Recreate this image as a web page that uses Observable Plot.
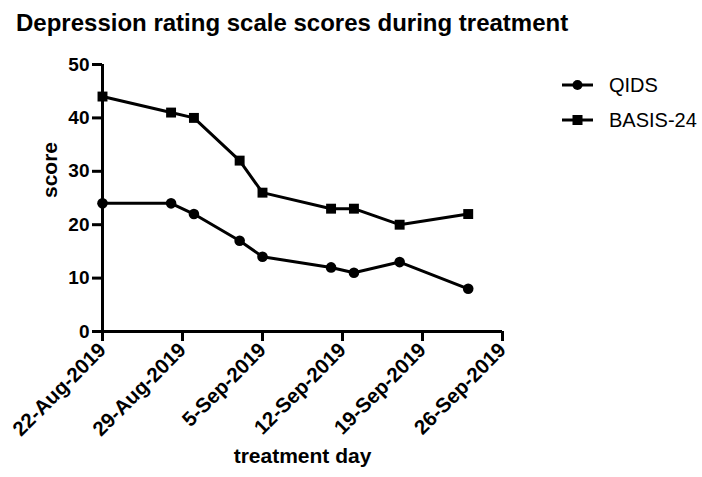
<!DOCTYPE html>
<html>
<head>
<meta charset="utf-8">
<script src="https://cdn.jsdelivr.net/npm/d3@7"></script>
<script src="https://cdn.jsdelivr.net/npm/@observablehq/plot@0.6"></script>
<style>
  body { margin: 0; background: #fff; font-family: "Liberation Sans", Arial, sans-serif; }
  #wrap { position: relative; width: 702px; height: 477px; }
  #chart { position: absolute; left: 0; top: 0; }
  #overlay { position: absolute; left: 0; top: 0; pointer-events: none; }
</style>
</head>
<body>
<div id="wrap">
  <div id="chart"></div>
  <svg id="overlay" width="702" height="477"></svg>
</div>
<script>
const titleText = "Depression rating scale scores during treatment";
const dates = ["2019-08-22","2019-08-28","2019-08-30","2019-09-03","2019-09-05","2019-09-11","2019-09-13","2019-09-17","2019-09-23"];
const qids = [24, 24, 22, 17, 14, 12, 11, 13, 8];
const basis = [44, 41, 40, 32, 26, 23, 23, 20, 22];
const seriesNames = ["QIDS", "BASIS-24"];
const tickDates = ["2019-08-22","2019-08-29","2019-09-05","2019-09-12","2019-09-19","2019-09-26"];
const yTicks = [0, 10, 20, 30, 40, 50];

const parse = d3.utcParse("%Y-%m-%d");
const rows = [];
dates.forEach((d, i) => {
  rows.push({date: parse(d), score: qids[i], series: seriesNames[0]});
  rows.push({date: parse(d), score: basis[i], series: seriesNames[1]});
});
const xTicks = tickDates.map(parse);
const x0 = xTicks[0], x1 = xTicks[xTicks.length - 1];
const fmt = d3.utcFormat("%-d-%b-%Y");
const FONT = "Liberation Sans, Arial, sans-serif";

const plot = Plot.plot({
  width: 702,
  height: 477,
  marginLeft: 102,
  marginRight: 200,
  marginTop: 64,
  marginBottom: 146,
  style: {fontFamily: FONT, background: "transparent", overflow: "visible"},
  x: {type: "utc", domain: [x0, x1]},
  y: {domain: [0, 50]},
  marks: [
    Plot.axisY({ticks: yTicks, tickSize: 10, strokeWidth: 3, tickPadding: 3, fontSize: 19, fontWeight: "bold", fill: "#000", label: null}),
    Plot.axisX({ticks: xTicks, tickSize: 10, strokeWidth: 3, tickRotate: -45, tickPadding: 5, fontSize: 20.5, fontWeight: "bold", fill: "#000", tickFormat: fmt, label: null}),
    Plot.ruleX([x0], {y1: 0, y2: 50, stroke: "#000", strokeWidth: 3}),
    Plot.ruleY([0], {x1: x0, x2: x1, stroke: "#000", strokeWidth: 3}),
    Plot.line(rows, {x: "date", y: "score", z: "series", stroke: "#000", strokeWidth: 3}),
    Plot.dot(rows.filter(r => r.series === "QIDS"), {x: "date", y: "score", r: 5.3, fill: "#000", stroke: null, symbol: "circle"}),
    Plot.dot(rows.filter(r => r.series === "BASIS-24"), {x: "date", y: "score", r: 5.6, fill: "#000", stroke: null, symbol: "square"}),
    Plot.text(["score"], {frameAnchor: "left", dx: -52, rotate: -90, fontSize: 21, fontWeight: "bold", fill: "#000"}),
    Plot.text(["treatment day"], {frameAnchor: "bottom", dy: 131, fontSize: 21, fontWeight: "bold", fill: "#000"})
  ]
});
document.getElementById("chart").appendChild(plot);

const ov = d3.select("#overlay");
ov.append("text").attr("x", 16).attr("y", 31).attr("font-size", 24).attr("font-weight", "bold")
  .attr("font-family", FONT).attr("fill", "#000").text(titleText);

seriesNames.forEach((name, i) => {
  const g = ov.append("g").attr("transform", `translate(562,${85 + i * 35})`);
  g.append("line").attr("x1", 0).attr("x2", 31).attr("stroke", "#000").attr("stroke-width", 3);
  if (i === 0) g.append("circle").attr("cx", 15.5).attr("r", 5);
  else g.append("rect").attr("x", 10.5).attr("y", -5).attr("width", 10).attr("height", 10);
  g.append("text").attr("x", 47).attr("y", 7).attr("font-size", 20).attr("fill", "#000")
    .attr("font-family", FONT).text(name);
});
</script>
</body>
</html>
